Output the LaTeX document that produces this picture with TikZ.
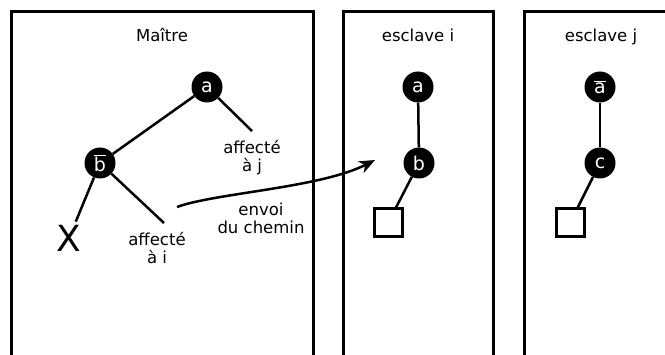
\documentclass[tikz,border=0pt]{standalone}
\usepackage{fontspec}
\setmainfont{DejaVu Sans}
\usetikzlibrary{arrows.meta,positioning}

\tikzset{
  var/.style={circle,fill=black,text=white,minimum size=31pt,inner sep=0pt,
    font=\fontsize{19}{20}\selectfont},
  cadre/.style={line width=3pt},
  lien/.style={line width=2.5pt},
  feuille/.style={draw,line width=3pt,minimum size=28pt,inner sep=0pt},
  etiq/.style={align=center,inner sep=3pt},
}
\newcommand{\barre}[1]{$\overline{\mbox{#1}}$}

\begin{document}
\begin{tikzpicture}[x=1pt,y=1pt,font=\fontsize{16.5}{18}\selectfont]
    \useasboundingbox (0,0) rectangle (665,354);
    \clip (0,0) rectangle (665,354);
    % les trois cadres
    \draw[cadre] (11,-5) -- (11,342) -- (313,342) -- (313,-5);
    \draw[cadre] (343,-5) -- (343,342) -- (493,342) -- (493,-5);
    \draw[cadre] (524,-5) -- (524,342) -- (680,342);
    \node[anchor=base] (maitre) at (162,312) {Maître};
    \node[anchor=base] (esci) at (418,312) {esclave i};
    \node[anchor=base] (escj) at (601,312) {esclave j};

    % maitre
    \node[var] (ma) at (207,267) {a};
    \node[var] (mb) at (100,191) {\barre{b}};
    \node[font=\fontsize{36}{40}\selectfont,inner sep=3pt] (mx) at (69,116) {X};
    \coordinate (fj) at (252,223);
    \coordinate (fi) at (164,131);
    \node[etiq,below=6pt of fj] (affj) {affecté\\à j};
    \node[etiq,below=6pt of fi,xshift=-7pt] (affi) {affecté\\à i};
    \draw[lien] (ma) -- (mb);
    \draw[lien] (ma) -- (fj);
    \draw[lien] (mb) -- (mx);
    \draw[lien] (mb) -- (fi);

    % envoi du chemin
    \coordinate (dep) at (177,147);
    \coordinate (arr) at (375,194);
    \draw[lien,-{Stealth[length=16pt,width=13pt,inset=5pt]}] (dep) .. controls (215,161) and (320,166) .. (arr);
    \node[etiq,anchor=north] (envoi) at (261,154) {envoi\\du chemin};

    % esclave i
    \node[var] (ia) at (418,267) {a};
    \node[var] (ib) at (419,191) {b};
    \node[feuille] (isq) at (388,131) {};
    \draw[lien] (ia) -- (ib);
    \draw[lien] (ib) -- (isq);

    % esclave j
    \node[var] (ja) at (600,267) {\barre{a}};
    \node[var] (jc) at (600,191) {c};
    \node[feuille] (jsq) at (570,131) {};
    \draw[lien] (ja) -- (jc);
    \draw[lien] (jc) -- (jsq);
\end{tikzpicture}
\end{document}
